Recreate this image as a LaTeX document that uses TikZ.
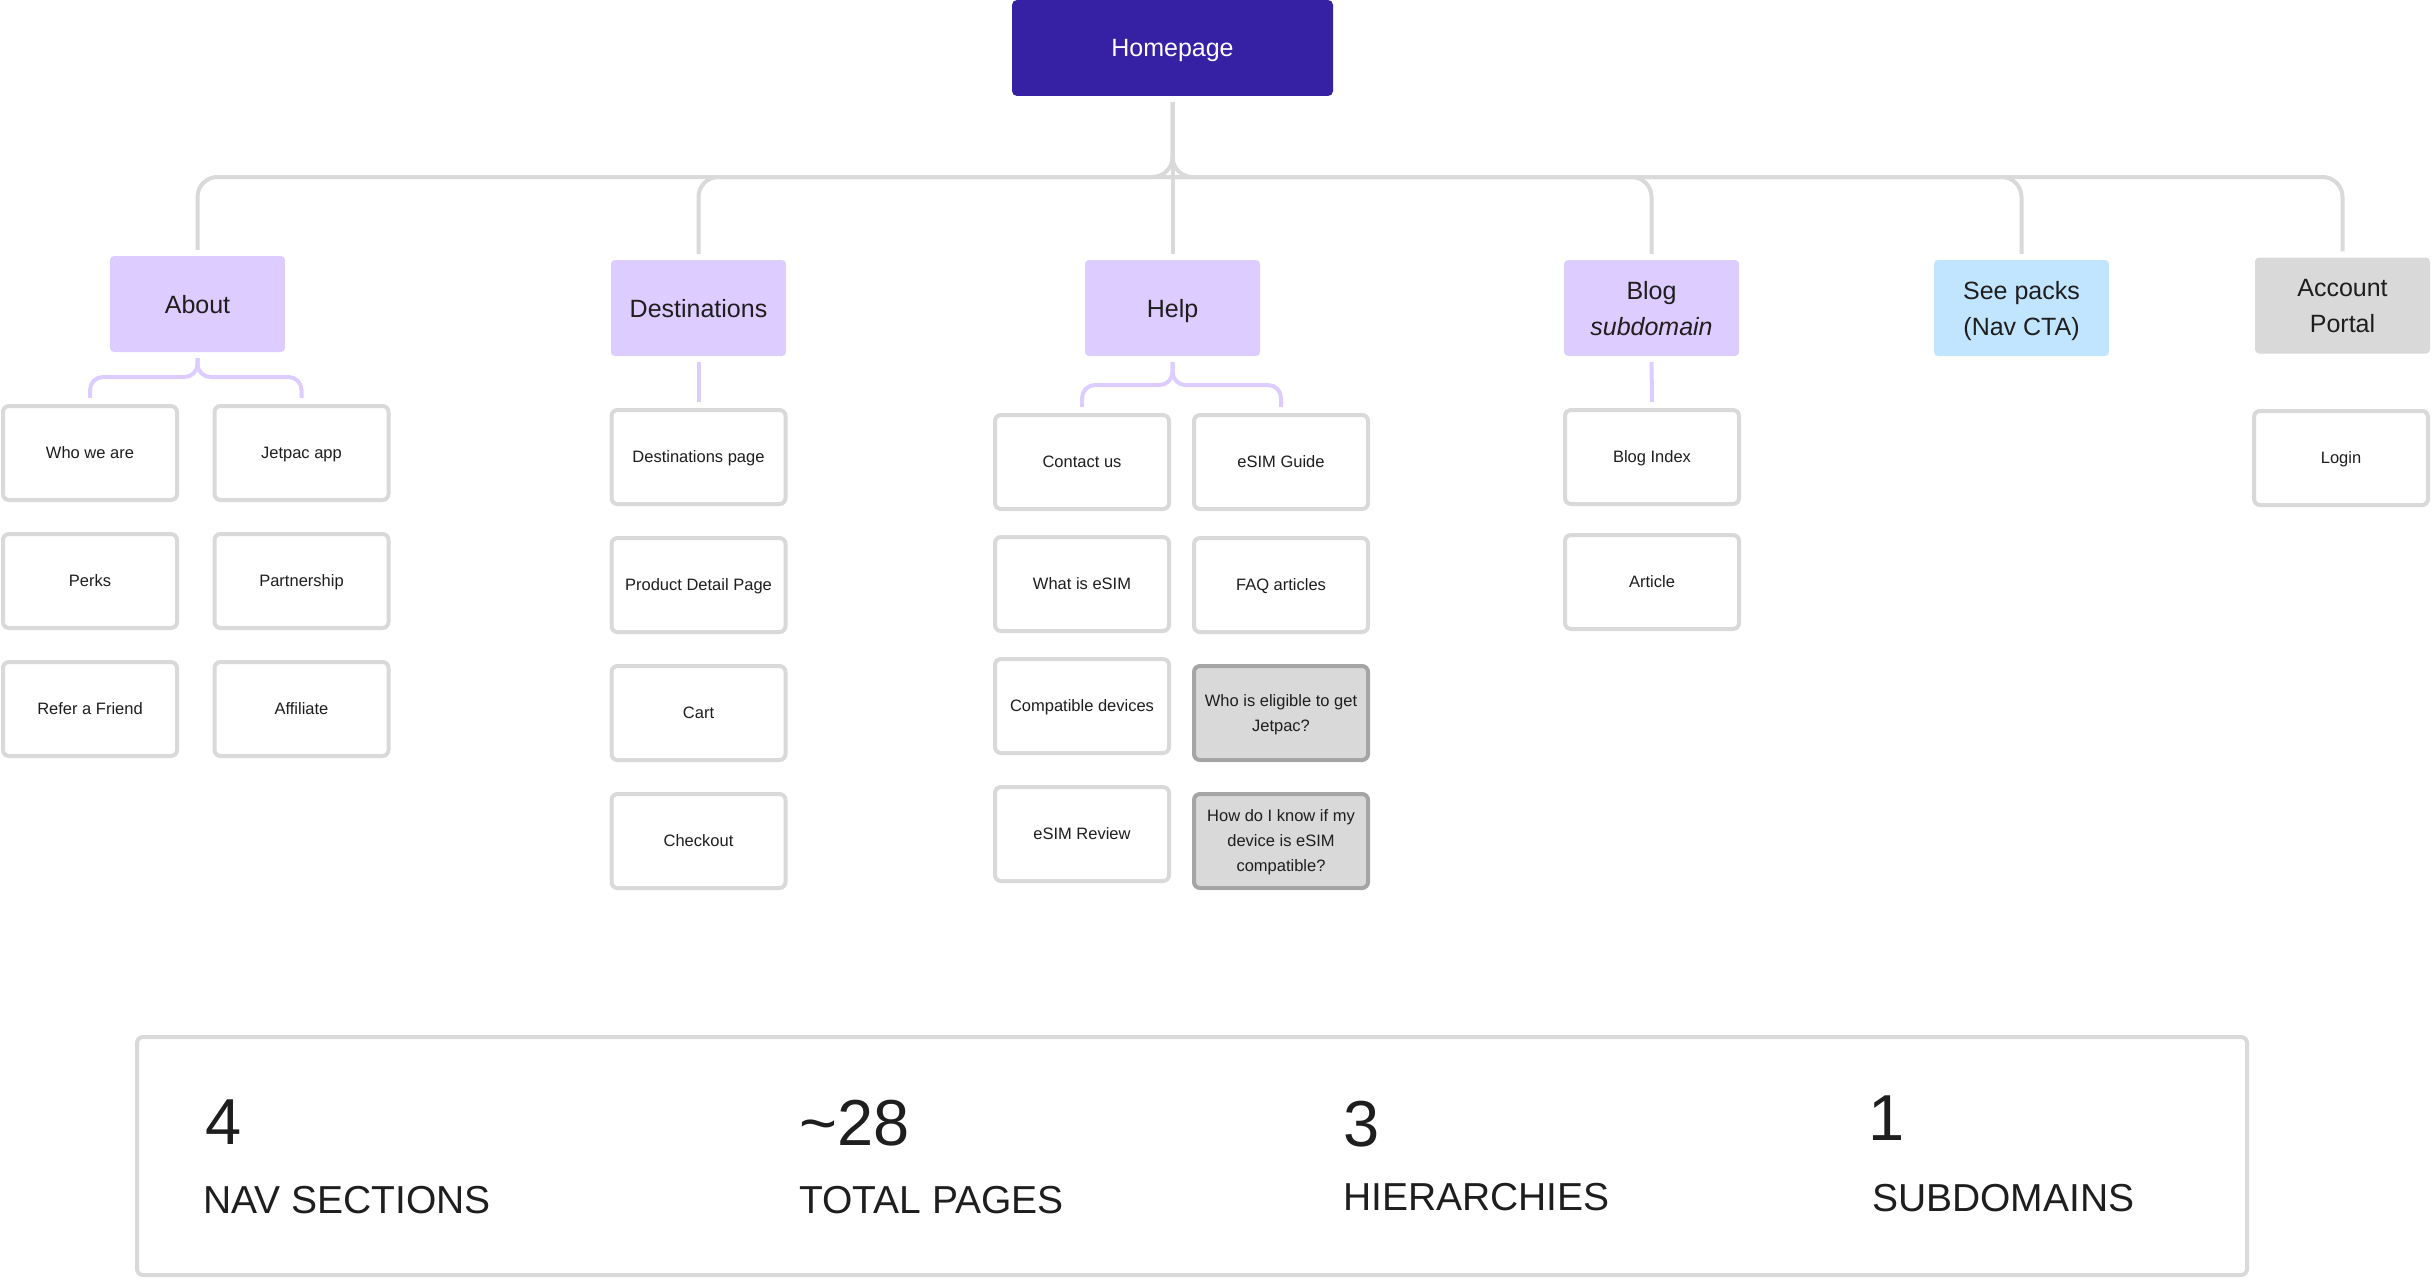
\documentclass[tikz,border=0pt]{standalone}
\usepackage{fontspec}
\setmainfont{Liberation Sans}
\definecolor{hpc}{RGB}{54,32,163}
\definecolor{lav}{RGB}{221,204,255}
\definecolor{skyb}{RGB}{194,229,255}
\definecolor{lgrey}{RGB}{217,217,217}
\definecolor{qborder}{RGB}{165,165,165}
\definecolor{txt}{RGB}{30,30,30}
\begin{document}
\begin{tikzpicture}[x=1pt,y=-1pt,
  conn/.style={draw=lgrey,line width=4pt,rounded corners=20pt},
  lconn/.style={draw=lav,line width=4pt,rounded corners=13pt},
  hpbox/.style={fill=hpc,rounded corners=5pt,minimum width=321pt,minimum height=96pt,inner sep=0pt,text depth=0pt,text=white,font=\fontsize{25}{36}\selectfont},
  sec/.style={fill=lav,rounded corners=4pt,minimum width=175pt,minimum height=96pt,inner sep=0pt,text depth=0pt,align=center,text=txt,font=\fontsize{25}{36}\selectfont},
  pg/.style={draw=lgrey,line width=4pt,fill=white,rounded corners=6pt,minimum width=174pt,minimum height=94pt,inner sep=0pt,text depth=0pt,align=center,text=txt,font=\fontsize{16.5}{25}\selectfont},
  pgq/.style={pg,fill=lgrey,draw=qborder},
  num/.style={anchor=base west,inner sep=0pt,text=txt,font=\fontsize{65}{70}\selectfont},
  lbl/.style={anchor=base west,inner sep=0pt,text=txt,font=\fontsize{39}{44}\selectfont}]
\useasboundingbox (0,0) rectangle (2432,1279);

% top
\node[hpbox] (hp) at (1172.5,48) {Homepage};
\node[sec] (about) at (197.5,304) {About};
\node[sec] (dest) at (698.5,308) {Destinations};
\node[sec] (help) at (1172.5,308) {Help};
\node[sec] (blog) at (1651.5,308) {Blog\\\textit{subdomain}};
\node[sec,fill=skyb] (packs) at (2021.5,308) {See packs\\(Nav CTA)};
\node[sec,fill=lgrey] (acct) at (2342.5,305.5) {Account\\Portal};

% pages
\node[pg] (who) at (90,453) {Who we are};
\node[pg] (jet) at (301.5,453) {Jetpac app};
\node[pg] (perks) at (90,581) {Perks};
\node[pg] (partner) at (301.5,581) {Partnership};
\node[pg] (refer) at (90,709) {Refer a Friend};
\node[pg] (aff) at (301.5,709) {Affiliate};
\node[pg] (dpage) at (698.5,457) {Destinations page};
\node[pg] (pdp) at (698.5,585) {Product Detail Page};
\node[pg] (cart) at (698.5,713) {Cart};
\node[pg] (checkout) at (698.5,841) {Checkout};
\node[pg] (contact) at (1082,462) {Contact us};
\node[pg] (what) at (1082,584) {What is eSIM};
\node[pg] (compat) at (1082,706) {Compatible devices};
\node[pg] (review) at (1082,834) {eSIM Review};
\node[pg] (guide) at (1281,462) {eSIM Guide};
\node[pg] (faq) at (1281,585) {FAQ articles};
\node[pgq] (elig) at (1281,713) {Who is eligible to get\\Jetpac?};
\node[pgq] (howdo) at (1281,841) {How do I know if my\\device is eSIM\\compatible?};
\node[pg] (bindex) at (1652,457) {Blog Index};
\node[pg] (article) at (1652,582) {Article};
\node[pg] (login) at (2341,458) {Login};

% stats
\node[draw=lgrey,line width=4pt,rounded corners=6pt,minimum width=2110pt,minimum height=238pt,inner sep=0pt] (stats) at (1192,1156) {};
\node[num] (n1) at (205,1144) {4};
\node[lbl] (l1) at (203,1213) {NAV SECTIONS};
\node[num] (n2) at (799,1145) {\textasciitilde 28};
\node[lbl] (l2) at (799,1213) {TOTAL PAGES};
\node[num] (n3) at (1343,1146) {3};
\node[lbl] (l3) at (1343,1210) {HIERARCHIES};
\node[num] (n4) at (1868,1140) {1};
\node[lbl] (l4) at (1872,1211) {SUBDOMAINS};

% connectors
\coordinate (hub) at (1172.5,177);
\draw[conn] ([yshift=6pt]about.north) |- (hub) -- ([yshift=-6pt]hp.south);
\draw[conn] ([yshift=6pt]acct.north) |- (hub) -- ([yshift=-6pt]hp.south);
\draw[conn] ([yshift=6pt]dest.north) |- (hub);
\draw[conn] ([yshift=6pt]blog.north) |- (hub);
\draw[conn] ([yshift=6pt]packs.north) |- (hub);
\draw[conn] ([yshift=-6pt]hp.south) -- ([yshift=6pt]help.north);

\coordinate (abr) at (197.5,377);
\draw[lconn] ([yshift=-6pt]about.south) -- (abr) -| ([yshift=6pt]who.north);
\draw[lconn] ([yshift=-6pt]about.south) -- (abr) -| ([yshift=6pt]jet.north);
\draw[lconn] ([yshift=-6pt]dest.south) -- ([yshift=6pt]dpage.north);
\coordinate (hbr) at (1172.5,385);
\draw[lconn] ([yshift=-6pt]help.south) -- (hbr) -| ([yshift=6pt]contact.north);
\draw[lconn] ([yshift=-6pt]help.south) -- (hbr) -| ([yshift=6pt]guide.north);
\draw[lconn] ([yshift=-6pt]blog.south) -- ([yshift=6pt]bindex.north);
\end{tikzpicture}
\end{document}
